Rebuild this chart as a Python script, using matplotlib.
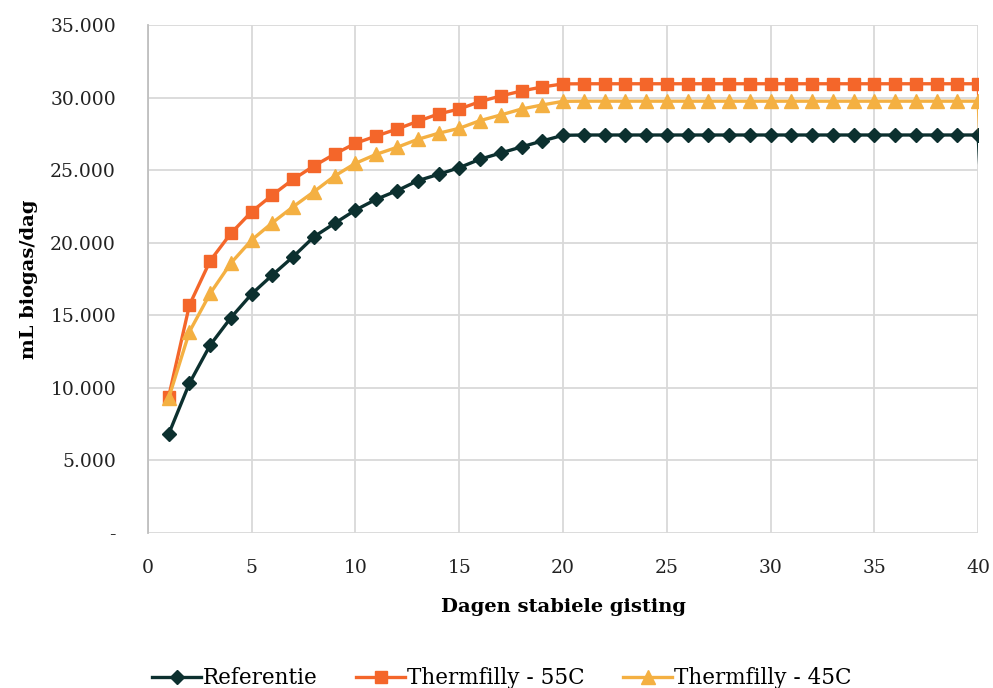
import numpy as np
import matplotlib
matplotlib.use('Agg')
import matplotlib.pyplot as plt
from matplotlib.ticker import FuncFormatter

plt.rcParams['font.family'] = ['DejaVu Serif']

# days 1..40, last point (41) is an empty cell that Excel draws as 0 (clipped at axis edge)
dagen = np.arange(1, 42)

referentie = [6820, 10320, 12950, 14840, 16470, 17780, 19040, 20410, 21340, 22250,
              22990, 23580, 24270, 24710, 25170, 25750, 26180, 26600, 27010, 27400] \
             + [27420] * 20 + [0]
thermo_55 = [9390, 15710, 18760, 20650, 22140, 23290, 24370, 25290, 26110, 26850,
             27350, 27830, 28360, 28870, 29210, 29720, 30110, 30450, 30730, 30940] \
            + [30950] * 20 + [0]
thermo_45 = [9300, 13870, 16510, 18600, 20190, 21380, 22480, 23515, 24600, 25470,
             26090, 26570, 27120, 27540, 27880, 28410, 28800, 29210, 29490, 29740] \
            + [29750] * 20 + [0]

c_ref = '#0c302f'
c_55 = '#f4662a'
c_45 = '#f4b042'

fig = plt.figure(figsize=(9.93, 6.88), dpi=100)
ax = fig.add_axes([0.149, 0.2253, 0.836, 0.7384])

ax.plot(dagen, referentie, color=c_ref, lw=2.4, marker='D', ms=7, label='Referentie')
ax.plot(dagen, thermo_55, color=c_55, lw=2.4, marker='s', ms=8.3, label='Thermfilly - 55C')
ax.plot(dagen, thermo_45, color=c_45, lw=2.4, marker='^', ms=9.5, label='Thermfilly - 45C')

ax.set_xlim(0, 40)
ax.set_ylim(0, 35000)
ax.set_xticks(np.arange(0, 41, 5))
ax.set_yticks(np.arange(0, 35001, 5000))

def dutch(v, pos):
    if v == 0:
        return '-'
    return '{:,.0f}'.format(v).replace(',', '.')

ax.yaxis.set_major_formatter(FuncFormatter(dutch))

ax.grid(True, color='#d9d9d9', lw=1.3)
ax.set_axisbelow(True)
for s in ['top', 'right', 'bottom']:
    ax.spines[s].set_visible(False)
ax.spines['left'].set_color('#bfbfbf')
ax.spines['left'].set_linewidth(1.3)
ax.tick_params(length=0, labelsize=13.5, colors='#222222')
ax.tick_params(axis='y', pad=23)
ax.tick_params(axis='x', pad=19)

ax.set_xlabel('Dagen stabiele gisting', fontsize=14, fontweight='bold')
ax.set_ylabel('mL biogas/dag', fontsize=14, fontweight='bold')
ax.xaxis.set_label_coords(0.5, -0.128)
ax.yaxis.set_label_coords(-0.132, 0.5)

fig.legend(loc='lower center', bbox_to_anchor=(0.505, -0.03), ncol=3, frameon=False,
           fontsize=15.5, handlelength=2.3, handletextpad=0.05, columnspacing=1.8)

fig.savefig('out.png', dpi=100)
